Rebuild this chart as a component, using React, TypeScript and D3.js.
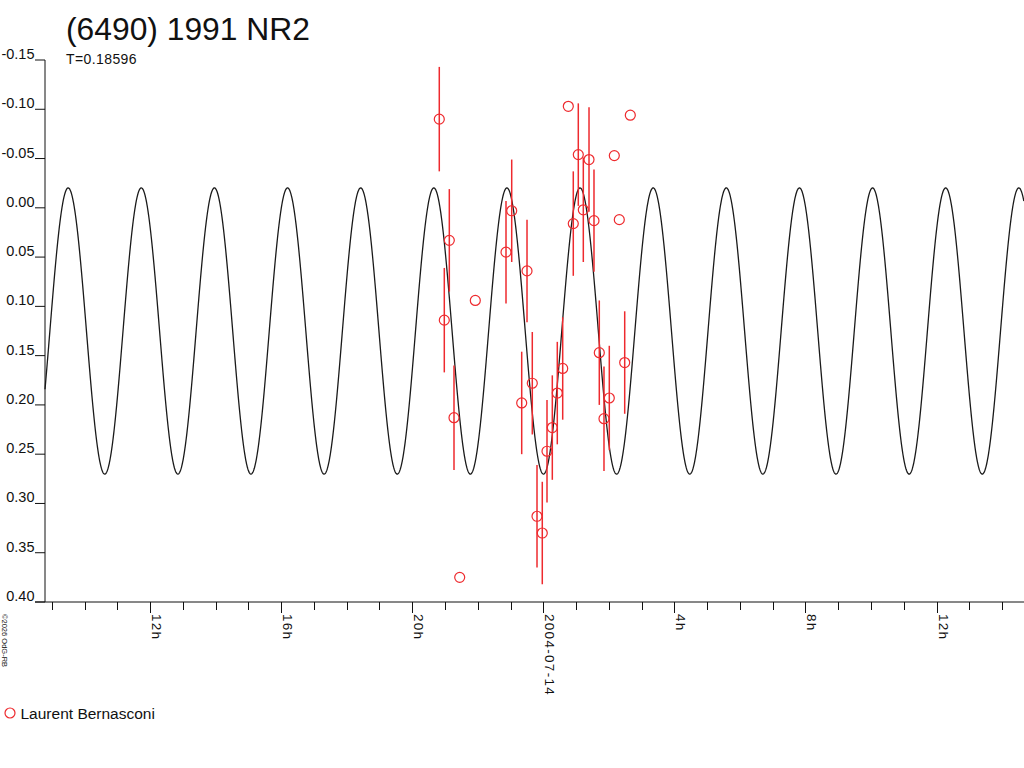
import * as d3 from "d3";

// observation times, hours from 2004-07-14 00:00 UT
const obsHours = [
  -3.174, -3.021, -2.868, -2.725, -2.551, -2.075, -1.138, -0.964, -0.659, -0.497,
  -0.336, -0.192, -0.031, 0.113, 0.275, 0.427, 0.592, 0.763, 0.915, 1.068,
  1.221, 1.395, 1.547, 1.709, 1.852, 2.014, 2.167, 2.319, 2.484, 2.655,
];
// relative magnitudes
const obsMag = [
  -0.090, 0.114, 0.033, 0.213, 0.375, 0.094, 0.045, 0.003, 0.198, 0.064,
  0.178, 0.313, 0.330, 0.247, 0.223, 0.188, 0.163, -0.103, 0.016, -0.054,
  0.002, -0.049, 0.013, 0.147, 0.214, 0.193, -0.053, 0.012, 0.157, -0.094,
];
// error bars (half length), 0 = none drawn
const obsErr = [
  0.053, 0.053, 0.052, 0.053, 0, 0, 0.052, 0.052, 0.052, 0.052,
  0.052, 0.052, 0.052, 0.052, 0.053, 0.052, 0.052, 0, 0.053, 0.052,
  0.053, 0.053, 0.052, 0.053, 0.053, 0.053, 0, 0, 0.052, 0,
];

const yTicks = [-0.15, -0.1, -0.05, 0, 0.05, 0.1, 0.15, 0.2, 0.25, 0.3, 0.35, 0.4];

// fitted lightcurve (2nd harmonic)
const FIT_PERIOD_DAYS = 0.18596;
const FIT_MEAN = 0.125;
const FIT_AMP = 0.1452;
const FIT_EPOCH_H = -1.11; // time of a maximum

const X_START_H = -15.206;
const X_END_H = 14.669;

const title = "(6490) 1991 NR2";
const observer = "Laurent Bernasconi";

const BASE = Date.UTC(2004, 6, 14);
const toDate = (h: number) => new Date(BASE + h * 3600e3);

const FONT = "'Liberation Sans', Arial, sans-serif";
const RED = "#ee2a2e";

export default function App() {
  const width = 1024;
  const height = 768;
  const left = 45;
  const axisY = 602;

  const x = d3.scaleUtc().domain([toDate(X_START_H), toDate(X_END_H)]).range([left, width]);
  const y = d3.scaleLinear().domain([-0.15, 0.4]).range([60, axisY]);

  const periodH = FIT_PERIOD_DAYS * 24;
  const model = (h: number) =>
    FIT_MEAN - FIT_AMP * Math.cos((4 * Math.PI * (h - FIT_EPOCH_H)) / periodH);
  const curveH = d3.range(X_START_H, X_END_H, 0.01);
  const line = d3
    .line<number>()
    .x((h) => x(toDate(h)))
    .y((h) => y(model(h)));

  const hourTicks = x.ticks(d3.utcHour.every(1)!);
  const fmtY = (v: number) => v.toFixed(2); // plain hyphen minus
  const fmtDay = d3.utcFormat("%Y-%m-%d");

  const points = obsHours.map((h, i) => ({ t: toDate(h), m: obsMag[i], e: obsErr[i] }));

  return (
    <svg
      width={width}
      height={height}
      style={{ position: "absolute", left: 0, top: 0, background: "#fff" }}
      fontFamily={FONT}
    >
      <rect width={width} height={height} fill="#fff" />
      <text x={66} y={40} fontSize={31.8} fill="#111">
        {title}
      </text>
      <text x={66} y={64} fontSize={14} letterSpacing={0.4} fill="#111">
        T=0.18596
      </text>

      {/* y axis */}
      <line x1={left} x2={left} y1={y(-0.15)} y2={axisY} stroke="#111" />
      {yTicks.map((v) => (
        <g key={v}>
          <line x1={35} x2={left} y1={y(v)} y2={y(v)} stroke="#111" />
          <text x={34.5} y={y(v) - 1} textAnchor="end" fontSize={14.5} fill="#111">
            {fmtY(v)}
          </text>
        </g>
      ))}

      {/* x axis */}
      <line x1={35} x2={width} y1={axisY} y2={axisY} stroke="#111" />
      {hourTicks.map((d) => {
        const hr = d.getUTCHours();
        const major = hr % 4 === 0;
        const px = Math.round(x(d)) + 0.5;
        return (
          <g key={+d}>
            <line x1={px} x2={px} y1={axisY} y2={axisY + (major ? 11 : 8)} stroke="#111" />
            {major && (
              <text
                transform={`translate(${px + 1.5},${axisY + 12}) rotate(90)`}
                fontSize={13.5}
                letterSpacing={1.3}
                fill="#111"
              >
                {hr === 0 ? fmtDay(d) : `${hr}h`}
              </text>
            )}
          </g>
        );
      })}

      {/* model curve */}
      <path d={line(curveH) ?? ""} fill="none" stroke="#1a1a1a" strokeWidth={1.3} />

      {/* observations */}
      {points.map((p, i) => (
        <g key={i}>
          {p.e > 0 && (
            <line
              x1={x(p.t)}
              x2={x(p.t)}
              y1={y(p.m - p.e)}
              y2={y(p.m + p.e)}
              stroke={RED}
              strokeWidth={1.5}
            />
          )}
          <circle cx={x(p.t)} cy={y(p.m)} r={5} fill="none" stroke={RED} strokeWidth={1.2} />
        </g>
      ))}

      {/* copyright */}
      <text transform="translate(2,614) rotate(90)" fontSize={7.5} fill="#111">
        ©2026 OdG-RB
      </text>

      {/* legend */}
      <circle cx={10} cy={713} r={5} fill="none" stroke={RED} strokeWidth={1.2} />
      <text x={20.5} y={718.5} fontSize={15.5} fill="#111">
        {observer}
      </text>
    </svg>
  );
}
